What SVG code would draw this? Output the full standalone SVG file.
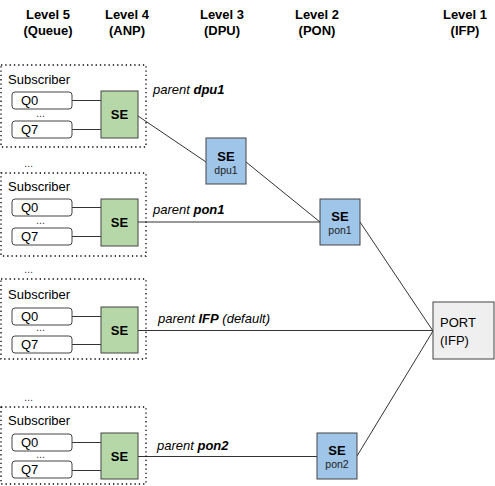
<svg xmlns="http://www.w3.org/2000/svg" width="495" height="486" viewBox="0 0 495 486">
<style>
text{font-family:"Liberation Sans",Arial,sans-serif;fill:#000}
.hdr{font-size:13px;font-weight:bold;text-anchor:middle}
.t{font-size:13px}
.sub{fill:none;stroke:#000;stroke-width:1.3;stroke-dasharray:1.3 3}
.q{fill:#fff;stroke:#444;stroke-width:1}
.g{fill:#b6d7a8;stroke:#444;stroke-width:1}
.b{fill:#9fc5e8;stroke:#444;stroke-width:1}
.p{fill:#efefef;stroke:#444;stroke-width:1}
.se{font-size:13px;font-weight:bold;text-anchor:middle}
.sm{font-size:10.5px;text-anchor:middle;fill:#222}
.lbl{font-size:13px;font-style:italic}
.dots{font-size:11px;fill:#444}
.c{stroke:#333;stroke-width:1;fill:none}
</style>
<g id="headers">
<text class="hdr" x="48" y="19">Level 5</text><text class="hdr" x="48" y="35">(Queue)</text>
<text class="hdr" x="127" y="19">Level 4</text><text class="hdr" x="127" y="35">(ANP)</text>
<text class="hdr" x="222" y="19">Level 3</text><text class="hdr" x="222" y="35">(DPU)</text>
<text class="hdr" x="317" y="19">Level 2</text><text class="hdr" x="317" y="35">(PON)</text>
<text class="hdr" x="465" y="19">Level 1</text><text class="hdr" x="465" y="35">(IFP)</text>
</g>
<g id="connectors">
<line class="c" x1="72" y1="100.5" x2="101" y2="100.5"/><line class="c" x1="72" y1="129.5" x2="101" y2="129.5"/>
<line class="c" x1="72" y1="207.5" x2="101" y2="207.5"/><line class="c" x1="72" y1="236.5" x2="101" y2="236.5"/>
<line class="c" x1="72" y1="316.5" x2="101" y2="316.5"/><line class="c" x1="72" y1="344.5" x2="101" y2="344.5"/>
<line class="c" x1="72" y1="442.5" x2="101" y2="442.5"/><line class="c" x1="72" y1="470.5" x2="101" y2="470.5"/>
<line class="c" x1="138" y1="116" x2="206" y2="162"/>
<line class="c" x1="246" y1="162" x2="320" y2="222"/>
<line class="c" x1="138" y1="222" x2="320" y2="222"/>
<line class="c" x1="360" y1="222" x2="433" y2="331"/>
<line class="c" x1="138" y1="330.5" x2="433" y2="330.5"/>
<line class="c" x1="138" y1="456.5" x2="317" y2="456.5"/>
<line class="c" x1="357" y1="456" x2="433" y2="331"/>
</g>
<g id="labels">
<text class="lbl" x="153" y="94">parent <tspan font-weight="bold">dpu1</tspan></text>
<text class="lbl" x="153" y="214">parent <tspan font-weight="bold">pon1</tspan></text>
<text class="lbl" x="158" y="323">parent <tspan font-weight="bold">IFP</tspan> (default)</text>
<text class="lbl" x="157" y="450">parent <tspan font-weight="bold">pon2</tspan></text>
</g>
<g id="subscriber1">
<rect class="sub" x="1" y="65" width="145" height="82"/>
<text class="t" x="8" y="84">Subscriber</text>
<rect class="q" x="12" y="92" width="60" height="17" rx="3"/><text class="t" x="21" y="105">Q0</text>
<text class="dots" x="36" y="117">...</text>
<rect class="q" x="12" y="121" width="60" height="17" rx="3"/><text class="t" x="21" y="134">Q7</text>
<rect class="g" x="101" y="91" width="37" height="47"/><text class="se" x="119.5" y="119">SE</text>
</g>
<g id="subscriber2">
<text class="dots" x="24" y="167">...</text>
<rect class="sub" x="1" y="173" width="145" height="83"/>
<text class="t" x="8" y="191">Subscriber</text>
<rect class="q" x="12" y="199" width="60" height="17" rx="3"/><text class="t" x="21" y="212">Q0</text>
<text class="dots" x="36" y="224">...</text>
<rect class="q" x="12" y="228" width="60" height="17" rx="3"/><text class="t" x="21" y="241">Q7</text>
<rect class="g" x="101" y="199" width="37" height="47"/><text class="se" x="119.5" y="227">SE</text>
</g>
<g id="subscriber3">
<text class="dots" x="24" y="273">...</text>
<rect class="sub" x="1" y="279" width="145" height="80"/>
<text class="t" x="8" y="299">Subscriber</text>
<rect class="q" x="12" y="308" width="60" height="17" rx="3"/><text class="t" x="21" y="321">Q0</text>
<text class="dots" x="36" y="331">...</text>
<rect class="q" x="12" y="336" width="60" height="17" rx="3"/><text class="t" x="21" y="349">Q7</text>
<rect class="g" x="101" y="307" width="37" height="46"/><text class="se" x="119.5" y="335">SE</text>
</g>
<g id="subscriber4">
<text class="dots" x="24" y="401">...</text>
<rect class="sub" x="1" y="407" width="145" height="77"/>
<text class="t" x="8" y="425">Subscriber</text>
<rect class="q" x="12" y="434" width="60" height="17" rx="3"/><text class="t" x="21" y="447">Q0</text>
<text class="dots" x="36" y="458">...</text>
<rect class="q" x="12" y="461" width="60" height="17" rx="3"/><text class="t" x="21" y="474">Q7</text>
<rect class="g" x="101" y="433" width="37" height="46"/><text class="se" x="119.5" y="461">SE</text>
</g>
<g id="dpu1">
<rect class="b" x="206" y="138" width="40" height="46"/>
<text class="se" x="226" y="161">SE</text><text class="sm" x="226" y="174">dpu1</text>
</g>
<g id="pon1">
<rect class="b" x="320" y="199" width="40" height="46"/>
<text class="se" x="340" y="221">SE</text><text class="sm" x="340" y="234">pon1</text>
</g>
<g id="pon2">
<rect class="b" x="317" y="433" width="40" height="46"/>
<text class="se" x="337" y="455">SE</text><text class="sm" x="337" y="468">pon2</text>
</g>
<g id="port">
<rect class="p" x="433" y="302" width="61" height="57"/>
<text class="t" x="440" y="327">PORT</text><text class="t" x="440" y="345">(IFP)</text>
</g>
</svg>
